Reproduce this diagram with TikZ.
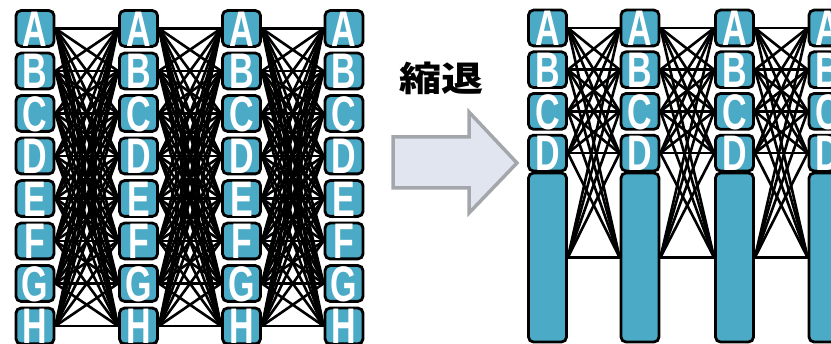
\documentclass[tikz,border=0pt]{standalone}
\usepackage{fontspec}
\setmainfont{Liberation Sans}
\newfontfamily\cjk{Noto Sans CJK JP}
\usetikzlibrary{backgrounds}
\definecolor{boxfill}{RGB}{75,171,198}
\definecolor{arrowfill}{RGB}{225,229,240}
\definecolor{arrowline}{RGB}{163,167,171}
\newcommand\lett[1]{\scalebox{0.68}[1]{#1}}
\begin{document}
\begin{tikzpicture}[x=1pt,y=-1pt,
  nbox/.style={draw=black, line width=2.8pt, fill=boxfill, rounded corners=5pt,
    minimum width=38pt, minimum height=33pt, inner sep=0pt, text=white,
    font=\fontsize{50}{50}\selectfont\bfseries, text height=35.8pt, text depth=0pt},
  bigbox/.style={draw=black, line width=2.8pt, fill=boxfill, rounded corners=5pt,
    minimum width=38pt, minimum height=169pt, inner sep=0pt},
  link/.style={line width=2.6pt, black},
  bigarrow/.style={draw=arrowline, fill=arrowfill, line width=3.5pt, line join=miter},
  title/.style={font=\cjk\bfseries\fontsize{42}{42}\selectfont, inner sep=0pt}]
\useasboundingbox (0,0) rectangle (831,344);
% left network
\foreach \c/\x in {1/35,2/138.5,3/241.5,4/344}{
  \foreach \l [count=\r from 0] in {A,...,H}{
    \node[nbox] (L\c-\l) at (\x,{28.5+42.5*\r}) {\lett{\l}};
  }
}
% right network
\foreach \c/\x in {1/547.5,2/640,3/734.5,4/828}{
  \foreach \l [count=\r from 0] in {A,...,D}{
    \node[nbox] (R\c-\l) at (\x,{28+41.7*\r}) {\lett{\l}};
  }
  \node[bigbox] (R\c-X) at (\x,257.5) {};
}
\begin{pgfonlayer}{background}
  \foreach \c [evaluate=\c as \d using int(\c+1)] in {1,2,3}{
    \foreach \i in {A,...,H}{
      \foreach \j in {A,...,H}{
        \draw[link] (L\c-\i.east) -- (L\d-\j.west);
      }
    }
    \foreach \i in {A,B,C,D,X}{
      \foreach \j in {A,B,C,D,X}{
        \draw[link] (R\c-\i.east) -- (R\d-\j.west);
      }
    }
  }
\end{pgfonlayer}
% arrow
\coordinate (a1) at (393,137);
\coordinate (a2) at (469,137);
\coordinate (a3) at (469,112);
\coordinate (a4) at (517,163);
\coordinate (a5) at (469,213);
\coordinate (a6) at (469,188);
\coordinate (a7) at (393,188);
\draw[bigarrow] (a1) -- (a2) -- (a3) -- (a4) -- (a5) -- (a6) -- (a7) -- cycle;
\node[title] (t) at (441,78) {\scalebox{1}[0.82]{縮退}};
\end{tikzpicture}
\end{document}
